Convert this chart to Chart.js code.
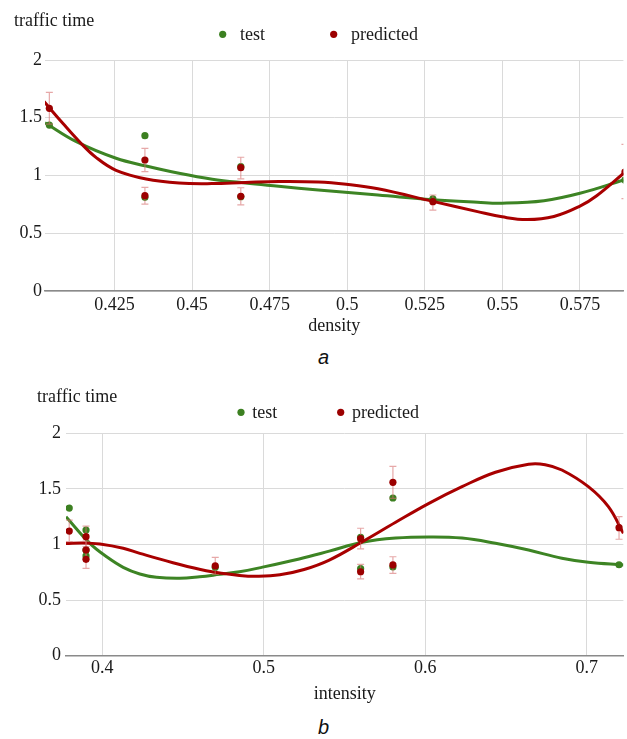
<!DOCTYPE html>
<html><head><meta charset="utf-8">
<script src="https://cdn.jsdelivr.net/npm/chart.js@4"></script>
<style>
html,body{margin:0;padding:0;background:#fff;width:627px;height:739px;overflow:hidden}
.box{position:absolute;left:0;width:627px}
#boxA{top:0;height:345px}
#boxB{top:375px;height:335px}
.cap{position:absolute;left:10px;width:627px;text-align:center;font:italic 20px "Liberation Sans",Arial,sans-serif;color:#111}
</style></head><body>
<div class="box" id="boxA"><canvas id="chartA"></canvas></div>
<div class="cap" style="top:346px">a</div>
<div class="box" id="boxB"><canvas id="chartB"></canvas></div>
<div class="cap" style="top:716px">b</div>
<script>
// ---------- data: chart a (density) ----------
const densityTicks = [0.425, 0.45, 0.475, 0.5, 0.525, 0.55, 0.575];
const timeTicks = [0, 0.5, 1, 1.5, 2];
const densityX        = [0.404, 0.4348, 0.4348, 0.4657, 0.4657, 0.5276, 0.5895];
const densityTest     = [1.437, 1.345, 0.811, 1.076, 0.816, 0.797, 0.96];
const densityPred     = [1.582, 1.134, 0.825, 1.068, 0.820, 0.773, 1.03];
const densityPredLow  = [1.444, 1.033, 0.753, 0.970, 0.745, 0.701, 0.80];
const densityPredHigh = [1.720, 1.235, 0.898, 1.158, 0.894, 0.831, 1.27];
const densityTestCurveX = [0.4026, 0.4127, 0.4255, 0.4352, 0.4458, 0.4565, 0.4672, 0.4779, 0.4907, 0.5099, 0.5276, 0.542, 0.5499, 0.5634, 0.575, 0.5891];
const densityTestCurveY = [1.457, 1.293, 1.149, 1.082, 1.019, 0.968, 0.935, 0.907, 0.874, 0.831, 0.79, 0.768, 0.76, 0.782, 0.846, 0.961];
const densityPredCurveX = [0.4023, 0.4084, 0.4138, 0.4191, 0.4255, 0.4352, 0.4458, 0.4564, 0.4672, 0.4779, 0.4907, 0.4997, 0.5099, 0.5276, 0.542, 0.5499, 0.558, 0.5666, 0.575, 0.5804, 0.5891];
const densityPredCurveY = [1.64, 1.45, 1.29, 1.155, 1.045, 0.97, 0.935, 0.93, 0.94, 0.948, 0.944, 0.924, 0.885, 0.776, 0.687, 0.642, 0.618, 0.645, 0.735, 0.825, 1.02];

// ---------- data: chart b (intensity) ----------
const intensityTicks = [0.4, 0.5, 0.6, 0.7];
const intensityX        = [0.3796, 0.39, 0.39, 0.39, 0.47, 0.56, 0.56, 0.58, 0.58, 0.72];
const intensityTest     = [1.328, 1.13, 0.95, 0.897, 0.795, 1.065, 0.783, 1.418, 0.798, 0.818];
const intensityPred     = [1.121, 1.07, 0.95, 0.867, 0.807, 1.052, 0.755, 1.559, 0.816, 1.151];
const intensityPredLow  = [1.025, 0.98, 0.87, 0.786, 0.73, 0.96, 0.69, 1.415, 0.741, 1.047];
const intensityPredHigh = [1.22, 1.166, 1.03, 0.95, 0.885, 1.146, 0.822, 1.703, 0.89, 1.25];
const intensityTestCurveX = [0.3776, 0.3924, 0.4027, 0.413, 0.4233, 0.4336, 0.448, 0.4603, 0.4727, 0.485, 0.4973, 0.522, 0.5406, 0.5611, 0.5817, 0.6023, 0.6228, 0.6435, 0.664, 0.6846, 0.701, 0.7227];
const intensityTestCurveY = [1.25, 1.01, 0.89, 0.795, 0.735, 0.705, 0.696, 0.71, 0.732, 0.755, 0.79, 0.87, 0.94, 1.02, 1.058, 1.068, 1.058, 1.011, 0.95, 0.876, 0.84, 0.816];
const intensityPredCurveX = [0.3776, 0.3883, 0.3986, 0.413, 0.4233, 0.4438, 0.4644, 0.485, 0.497, 0.51, 0.525, 0.5406, 0.5611, 0.5817, 0.6023, 0.6228, 0.6435, 0.664, 0.6743, 0.6846, 0.701, 0.7134, 0.7227];
const intensityPredCurveY = [1.01, 1.014, 1.004, 0.966, 0.92, 0.836, 0.764, 0.722, 0.714, 0.727, 0.775, 0.86, 1.025, 1.2, 1.37, 1.52, 1.65, 1.722, 1.718, 1.67, 1.52, 1.34, 1.10];

// ---------- styling ----------
const FONT = '"Liberation Serif", "Times New Roman", serif';
const GREEN_PT = '#3c8021', RED_PT = '#9c0000';
const GREEN_LN = '#3d8424', RED_LN = '#a80000';
const TXT = '#1a1a1a';

const pairs = (xs, ys) => xs.map((x, i) => ({x, y: ys[i]}));

const overlayPlugin = {
  id: 'overlay',
  afterDraw(chart, args, o) {
    const ctx = chart.ctx;
    ctx.save();
    ctx.font = '18px ' + FONT;
    ctx.textBaseline = 'alphabetic';
    ctx.textAlign = 'left';
    ctx.fillStyle = TXT;
    ctx.fillText(chart.options.scales.y.title.text, o.titleX, o.titleY);
    let x = o.legendX;
    chart.data.datasets.filter(d => d.legendIndex !== undefined)
      .sort((a, b) => a.legendIndex - b.legendIndex)
      .forEach(d => {
        ctx.beginPath();
        ctx.fillStyle = d.backgroundColor;
        ctx.arc(x, o.dotY, o.r, 0, Math.PI * 2);
        ctx.fill();
        ctx.fillStyle = TXT;
        const tx = x + o.dotGap;
        ctx.fillText(d.label, tx, o.textY);
        x = tx + ctx.measureText(d.label).width + o.itemGap;
      });
    ctx.restore();
  }
};

const errorBarPlugin = {
  id: 'errbars',
  beforeDatasetDraw(chart, args) {
    const ds = chart.data.datasets[args.index];
    if (!ds.errLow) return;
    const {ctx, chartArea: a, scales: {x, y}} = chart;
    ctx.save();
    ctx.beginPath();
    ctx.rect(a.left, a.top, a.right - a.left, a.bottom - a.top);
    ctx.clip();
    ctx.strokeStyle = 'rgba(214,110,110,0.6)';
    ctx.lineWidth = 1.2;
    ds.data.forEach((p, i) => {
      const px = x.getPixelForValue(p.x);
      const lo = y.getPixelForValue(ds.errLow[i]);
      const hi = y.getPixelForValue(ds.errHigh[i]);
      ctx.beginPath();
      ctx.moveTo(px, lo); ctx.lineTo(px, hi);
      ctx.moveTo(px - 3.5, lo); ctx.lineTo(px + 3.5, lo);
      ctx.moveTo(px - 3.5, hi); ctx.lineTo(px + 3.5, hi);
      ctx.stroke();
    });
    ctx.restore();
  }
};

function makeChart(id, cfg) {
  return new Chart(document.getElementById(id), {
    type: 'scatter',
    data: {
      datasets: [
        {label: 'predicted', legendIndex: 1, data: pairs(cfg.px, cfg.pred), errLow: cfg.low, errHigh: cfg.high,
         backgroundColor: RED_PT, borderWidth: 0, pointRadius: 3.6, pointBorderWidth: 0, pointHoverRadius: 3.6},
        {label: 'test', legendIndex: 0, data: pairs(cfg.px, cfg.test),
         backgroundColor: GREEN_PT, borderWidth: 0, pointRadius: 3.6, pointBorderWidth: 0, pointHoverRadius: 3.6},
        {label: 'predicted curve', data: pairs(cfg.pcx, cfg.pcy), showLine: true, borderColor: RED_LN,
         borderWidth: 3, pointRadius: 0, tension: 0.4},
        {label: 'test curve', data: pairs(cfg.tcx, cfg.tcy), showLine: true, borderColor: GREEN_LN,
         borderWidth: 3, pointRadius: 0, tension: 0.4}
      ]
    },
    options: {
      responsive: true, maintainAspectRatio: false, animation: false, devicePixelRatio: 1,
      layout: {padding: cfg.padding},
      plugins: {legend: {display: false}, tooltip: {enabled: false}, overlay: cfg.overlay},
      scales: {
        x: {
          type: 'linear', min: cfg.xmin, max: cfg.xmax,
          afterBuildTicks: s => { s.ticks = cfg.xticks.map(v => ({value: v})); },
          afterFit: s => { s.height = cfg.xHeight; },
          ticks: {callback: v => String(v), font: {family: FONT, size: 18}, color: TXT, padding: cfg.xTickPad, maxRotation: 0, autoSkip: false},
          grid: {color: '#dadada', lineWidth: 1, drawTicks: false},
          border: {display: true, color: '#8a8a8a', width: 1.5},
          title: {display: true, text: cfg.xTitle, font: {family: FONT, size: 18}, color: TXT, padding: {top: 0, bottom: cfg.xTitlePad}}
        },
        y: {
          type: 'linear', min: 0, max: 2,
          afterBuildTicks: s => { s.ticks = timeTicks.map(v => ({value: v})); },
          afterFit: s => { s.width = cfg.yWidth; },
          ticks: {callback: v => String(v), font: {family: FONT, size: 18}, color: TXT, padding: cfg.yTickPad},
          grid: {color: '#dadada', lineWidth: 1, drawTicks: false},
          border: {display: false},
          title: {display: false, text: 'traffic time'}
        }
      }
    },
    plugins: [overlayPlugin, errorBarPlugin]
  });
}

makeChart('chartA', {
  px: densityX, test: densityTest, pred: densityPred, low: densityPredLow, high: densityPredHigh,
  tcx: densityTestCurveX, tcy: densityTestCurveY, pcx: densityPredCurveX, pcy: densityPredCurveY,
  xmin: 0.4026, xmax: 0.589, xticks: densityTicks, xTitle: 'density',
  padding: {top: 60, left: 10, right: 0, bottom: 0}, yWidth: 35, yTickPad: 3,
  xHeight: 54, xTickPad: 3, xTitlePad: 8,
  overlay: {titleX: 14, titleY: 26, legendX: 222.7, dotY: 34.3, textY: 40, r: 3.6, dotGap: 17.3, itemGap: 68.7}
});

makeChart('chartB', {
  px: intensityX, test: intensityTest, pred: intensityPred, low: intensityPredLow, high: intensityPredHigh,
  tcx: intensityTestCurveX, tcy: intensityTestCurveY, pcx: intensityPredCurveX, pcy: intensityPredCurveY,
  xmin: 0.3776, xmax: 0.7227, xticks: intensityTicks, xTitle: 'intensity',
  padding: {top: 58.3, left: 20, right: 2, bottom: 0}, yWidth: 46, yTickPad: 5,
  xHeight: 54.3, xTickPad: 2, xTitlePad: 5,
  overlay: {titleX: 37, titleY: 26.7, legendX: 241, dotY: 37.3, textY: 43.3, r: 3.6, dotGap: 11.3, itemGap: 63.4}
});
</script>
</body></html>
